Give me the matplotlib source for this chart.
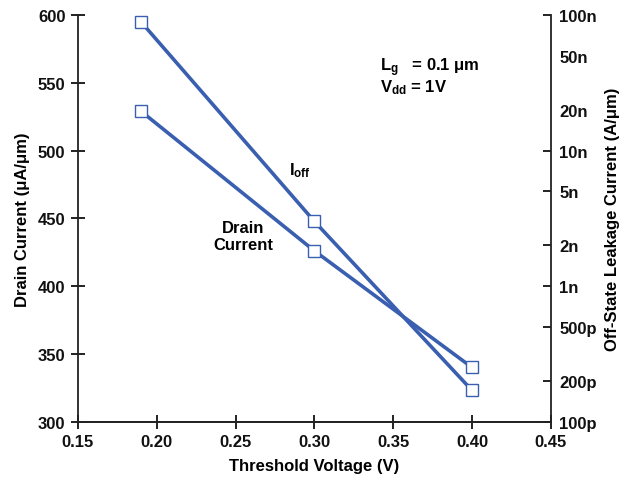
import matplotlib
matplotlib.use("Agg")
import matplotlib.pyplot as plt
from matplotlib import font_manager

names = {f.name for f in font_manager.fontManager.ttflist}
fam = "Liberation Sans Narrow" if "Liberation Sans Narrow" in names else "Liberation Sans"
plt.rcParams['font.family'] = [fam, 'DejaVu Sans']
plt.rcParams['font.weight'] = 'bold'
plt.rcParams['mathtext.fontset'] = 'custom'
plt.rcParams['mathtext.rm'] = fam + ':bold'
plt.rcParams['mathtext.it'] = fam + ':bold'
plt.rcParams['mathtext.bf'] = fam + ':bold'

vt = [0.19, 0.30, 0.40]
drain_current = [529, 426, 340]
ioff = [89e-9, 3.0e-9, 170e-12]

x_ticks = [0.15, 0.20, 0.25, 0.30, 0.35, 0.40, 0.45]
y_ticks = [300, 350, 400, 450, 500, 550, 600]
r_ticks = [100e-12, 200e-12, 500e-12, 1e-9, 2e-9, 5e-9, 10e-9, 20e-9, 50e-9, 100e-9]
r_labels = ['100p', '200p', '500p', '1n', '2n', '5n', '10n', '20n', '50n', '100n']
r_noticks = ['20n', '50n']

color = '#3a5fb0'

fig = plt.figure(figsize=(6.26, 4.81), dpi=100)
ax = fig.add_axes([0.1246, 0.1212, 0.7554, 0.8455])
ax2 = ax.twinx()

ax.plot(vt, drain_current, color=color, lw=2.6, marker='s', ms=9,
        mfc='white', mec=color, mew=1.0, zorder=3)
ax2.plot(vt, ioff, color=color, lw=2.6, marker='s', ms=9,
         mfc='white', mec=color, mew=1.0, zorder=3)

ax.set_xlim(0.15, 0.45)
ax.set_ylim(300, 600)
ax2.set_yscale('log')
ax2.set_ylim(1e-10, 1e-7)

ax.set_xticks(x_ticks)
ax.set_xticklabels([f"{v:.2f}" for v in x_ticks])
ax.set_yticks(y_ticks)
ax.set_yticklabels([str(v) for v in y_ticks])
ax2.set_yticks(r_ticks)
ax2.set_yticklabels(r_labels)
ax2.yaxis.set_minor_locator(matplotlib.ticker.NullLocator())

for a in (ax, ax2):
    a.spines['top'].set_visible(False)
    for s in a.spines.values():
        s.set_linewidth(1.3)
        s.set_color('#222222')
ax2.spines['left'].set_visible(False)
ax.spines['right'].set_visible(False)

ax.tick_params(axis='both', direction='inout', length=10, width=1.3,
               labelsize=12, colors='#111111', pad=4)
ax2.tick_params(axis='y', direction='in', length=6, width=1.3,
                labelsize=12, colors='#111111', pad=6)
for t, lab in zip(ax2.yaxis.get_major_ticks(), r_labels):
    if lab in r_noticks:
        t.tick1line.set_visible(False)
        t.tick2line.set_visible(False)

ax.set_xlabel('Threshold Voltage (V)', fontsize=12, fontweight='bold', labelpad=6)
ax.set_ylabel('Drain Current (\u03bcA/\u03bcm)', fontsize=12, fontweight='bold', labelpad=6)
ax2.set_ylabel('Off-State Leakage Current (A/\u03bcm)', fontsize=12, fontweight='bold', labelpad=6)

ax.text(0.291, 486, r'$\mathregular{I_{off}}$', fontsize=12, ha='center', va='center')
ax.text(0.255, 437, 'Drain\nCurrent', fontsize=12, ha='center', va='center', linespacing=1.1)
ax.text(0.3415, 562, r'$\mathregular{L_g}$' + '   = 0.1 \u03bcm', fontsize=12, ha='left', va='center')
ax.text(0.3415, 547, r'$\mathregular{V_{dd}}$' + ' = 1V', fontsize=12, ha='left', va='center')

fig.savefig('out.png', dpi=100)
